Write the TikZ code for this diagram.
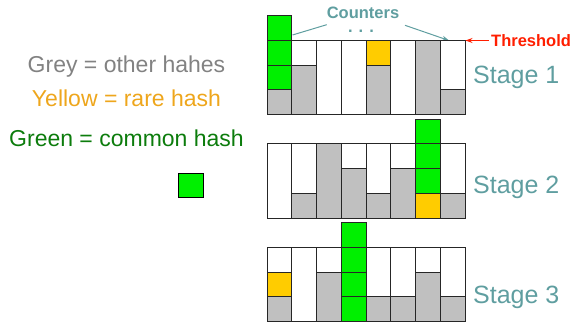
\documentclass[tikz,border=0pt]{standalone}
\usepackage{fontspec}
\setmainfont{Liberation Sans}
\usetikzlibrary{arrows.meta}

\definecolor{stageteal}{RGB}{95,158,160}
\definecolor{legendgrey}{RGB}{130,130,130}
\definecolor{legendyellow}{RGB}{238,166,28}
\definecolor{legendgreen}{RGB}{12,124,12}
\definecolor{cellgrey}{RGB}{192,192,192}
\definecolor{cellyellow}{RGB}{255,204,0}
\definecolor{cellgreen}{RGB}{0,240,0}
\definecolor{threshred}{RGB}{255,30,0}

% one stage of counters: #1 bottom edge, #2 column/grey-height pairs,
% #3 column/row/colour triples for the coloured hash cells
\newcommand\countstage[3]{%
  \begin{scope}[shift={(267pt,#1pt)}, x=24.75pt, y=24.75pt]
    \foreach \c/\g in {#2} {
      \draw[cellframe, fill=white] (\c,0) rectangle ++(1,3);
      \ifnum\g>0 \draw[cellframe, fill=cellgrey] (\c,0) rectangle ++(1,\g);\fi
    }
    \foreach \c/\r/\s in {#3} {
      \draw[cellframe, fill=\s] (\c,\r) rectangle ++(1,1);
    }
  \end{scope}}

\begin{document}
\begin{tikzpicture}[x=1pt, y=1pt,
  cellframe/.style={draw=black!85, line width=0.9pt},
  legend/.style={font=\fontsize{23}{27}\selectfont, anchor=base, inner sep=0pt},
  stagelabel/.style={font=\fontsize{25}{30}\selectfont, text=stageteal, anchor=base west, inner sep=0pt},
  callout/.style={font=\bfseries\fontsize{16.5}{19}\selectfont, inner sep=0pt},
  pointer/.style={line width=1pt},
]
\useasboundingbox (0,0) rectangle (572,322);

% legend
\node[legend, text=legendgrey]   (lgrey)   at (126.5,249.5) {Grey = other hahes};
\node[legend, text=legendyellow] (lyellow) at (126.5,215.3) {Yellow = rare hash};
\node[legend, text=legendgreen]  (lgreen)  at (126.5,175.3) {Green = common hash};
\node[draw=black, line width=0.9pt, fill=cellgreen, minimum size=24.5pt, inner sep=0pt] (hashsq) at (191,136.5) {};

% counter-label pointers
\node[callout, text=stageteal, anchor=base, text depth=0pt] (counters) at (363,303) {Counters};
\node[callout, text=stageteal, anchor=base, text height=3pt, text depth=0pt] (dots) at (361,289.5) {. . .};
\coordinate (ctrleft)  at (326.7,297.3);
\coordinate (ctrright) at (405,296.7);
\coordinate (firstcol) at (292.5,287);
\coordinate (lastcol)  at (449,281.5);
\draw[pointer, stageteal] (ctrleft) -- (firstcol);
\draw[pointer, stageteal, -{Stealth[length=7pt,width=5pt]}] (ctrright) -- (lastcol);

% stages
\countstage{207.5}{0/1,1/2,2/0,3/0,4/2,5/0,6/3,7/1}
  {0/1/cellgreen,0/2/cellgreen,0/3/cellgreen,4/2/cellyellow}
\countstage{104}{0/0,1/1,2/3,3/2,4/1,5/2,6/0,7/1}
  {6/0/cellyellow,6/1/cellgreen,6/2/cellgreen,6/3/cellgreen}
\countstage{0.5}{0/1,1/0,2/2,3/0,4/1,5/1,6/2,7/1}
  {0/1/cellyellow,3/0/cellgreen,3/1/cellgreen,3/2/cellgreen,3/3/cellgreen}

\node[stagelabel] (stage1) at (473,238.7) {Stage 1};
\node[stagelabel] (stage2) at (473,129) {Stage 2};
\node[stagelabel] (stage3) at (473,19) {Stage 3};

% threshold marker
\node[callout, text=threshred, anchor=west] (thresh) at (491,281) {Threshold};
\coordinate (threshtip) at (465.5,281.5);
\draw[pointer, threshred, -{Stealth[length=7pt,width=5pt]}] (thresh.west) ++(-2,0.5) -- (threshtip);
\end{tikzpicture}
\end{document}
